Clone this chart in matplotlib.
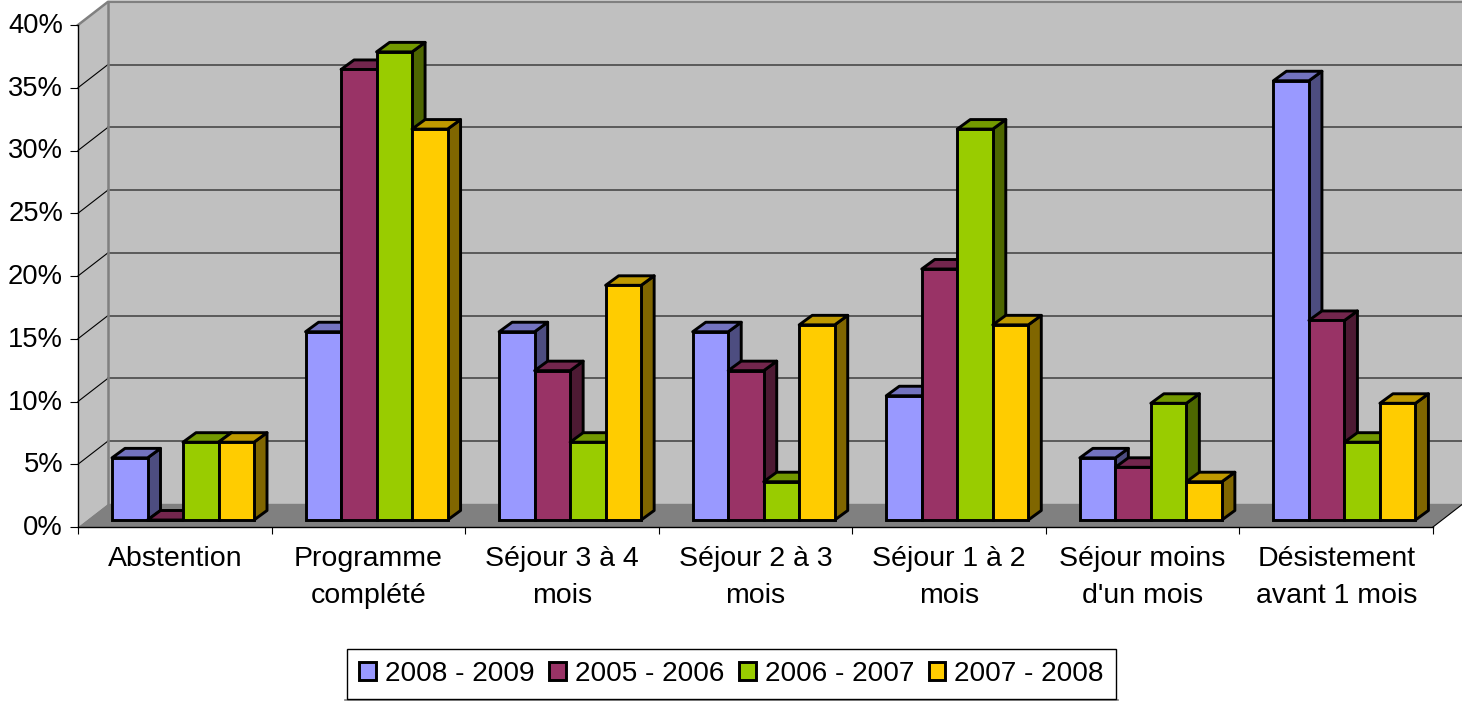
import matplotlib
matplotlib.use("Agg")
import matplotlib.pyplot as plt
from matplotlib.lines import Line2D
from matplotlib.patches import Polygon, Patch
from matplotlib.colors import to_rgb
from matplotlib.transforms import ScaledTranslation

plt.rcParams['font.family'] = ['Liberation Sans', 'DejaVu Sans']

categories = ["Abstention", "Programme\ncomplété", "Séjour 3 à 4\nmois", "Séjour 2 à 3\nmois",
	"Séjour 1 à 2\nmois", "Séjour moins\nd'un mois", "Désistement\navant 1 mois"]
series = ["2008 - 2009", "2005 - 2006", "2006 - 2007", "2007 - 2008"]
v_2008 = [4.95, 15, 15, 15, 9.9, 4.95, 35]
v_2005 = [0, 35.9, 11.9, 11.9, 20, 4.2, 15.9]
v_2006 = [6.2, 37.3, 6.2, 3.05, 31.15, 9.3, 6.2]
v_2007 = [6.2, 31.15, 18.7, 15.55, 15.55, 3.05, 9.3]
values = [v_2008, v_2005, v_2006, v_2007]
colors = ["#9999ff", "#993366", "#99cc00", "#ffcc00"]
yticks = [0, 5, 10, 15, 20, 25, 30, 35, 40]

W, H = 1462, 701
left, right, base, top = 78, 1433, 527, 25
px_x = len(categories)/(right - left)  # data units per pixel
px_y = 40/(base - top)

def dark(c, f):
	return tuple(f*a for a in to_rgb(c))

fig = plt.figure(figsize=(W/100, H/100), dpi=100)
ax = fig.add_axes([left/W, 1 - base/H, (right - left)/W, (base - top)/H])
ax.set_xlim(0, len(categories))
ax.set_ylim(0, 40)
ax.patch.set_visible(False)

# walls and floor
dx = 30*px_x
dy = 23.2*px_y
n = len(categories)
ax.add_patch(Polygon([(dx, dy), (n + dx, dy), (n + dx, 40 + dy), (dx, 40 + dy)], fc="#c0c0c0", ec="none", clip_on=False, zorder=0))
ax.add_patch(Polygon([(0, 0), (dx, dy), (dx, 40 + dy), (0, 40)], fc="#c0c0c0", ec="none", clip_on=False, zorder=0))
ax.add_patch(Polygon([(0, 0), (n, 0), (n + dx, dy), (dx, dy)], fc="#808080", ec="none", clip_on=False, zorder=0))

for v in yticks[1:-1]:
	ax.plot([0, dx], [v, v + dy], color="black", lw=0.8, clip_on=False, zorder=1)
	ax.plot([dx, n + dx], [v + dy, v + dy], color="#484848", lw=1.2, clip_on=False, zorder=1)
ax.plot([0, dx, n + dx], [40, 40 + dy, 40 + dy], color="#808080", lw=1.8, clip_on=False, zorder=1)
ax.plot([dx, dx], [dy, 40 + dy], color="#808080", lw=1.8, clip_on=False, zorder=1)
ax.plot([n, n + dx], [0, dy], color="black", lw=0.8, clip_on=False, zorder=1)

# bars, left to right so the later ones cover the earlier sides
bw = 35.5*px_x
start = 34*px_x
y0 = 7*px_y
bx = 13*px_x
by = 9.5*px_y
edge = 2.1
for i in range(n):
	for j in range(len(series)):
		v = values[j][i]
		x = i + start + j*bw
		t = y0 + v
		ax.add_patch(Polygon([(x + bw, y0), (x + bw + bx, y0 + by), (x + bw + bx, t + by), (x + bw, t)],
			fc=dark(colors[j], 0.5), ec="black", lw=edge, joinstyle="round", clip_on=False, zorder=2))
		ax.add_patch(Polygon([(x, t), (x + bx, t + by), (x + bw + bx, t + by), (x + bw, t)],
			fc=dark(colors[j], 0.75), ec="black", lw=edge, joinstyle="round", clip_on=False, zorder=2))
		ax.bar(x, v, bw, bottom=y0, align="edge", color=colors[j], edgecolor="black", lw=edge, clip_on=False, zorder=2)

# axes
for s in ["top", "right"]:
	ax.spines[s].set_visible(False)
ax.spines["left"].set_linewidth(1.0)
ax.spines["bottom"].set_linewidth(1.0)
ax.set_yticks(yticks)
ax.set_yticklabels([str(v) + "%" for v in yticks], fontsize=19.7)
ax.tick_params(axis="y", length=5.8, width=0.8, pad=5)
for lab in ax.get_yticklabels():
	lab.set_transform(lab.get_transform() + ScaledTranslation(0, 0.02, fig.dpi_scale_trans))
ax.set_xticks(range(n + 1))
ax.set_xticklabels([])
ax.tick_params(axis="x", which="major", length=5, width=0.8)
ax.set_xticks([i + 0.5 for i in range(n)], minor=True)
ax.set_xticklabels(categories, minor=True, fontsize=20.5, linespacing=1.52)
ax.tick_params(axis="x", which="minor", length=0, pad=14)

handles = [Patch(fc=c, ec="black", lw=edge) for c in colors]
leg = fig.legend(handles, series, ncol=4, loc="center", bbox_to_anchor=(731.5/W, 1 - 674/H),
	fontsize=20.2, frameon=True, fancybox=False, framealpha=1, edgecolor="black",
	handlelength=0.6, handleheight=0.6, handletextpad=0.32, columnspacing=0.52, borderpad=0.42, borderaxespad=0)
leg.get_frame().set_linewidth(1.0)
fig.add_artist(Line2D([345/W, 1118/W], [1 - 700/H, 1 - 700/H], color="#808080", lw=1.2))

fig.savefig("out.png", dpi=100)
